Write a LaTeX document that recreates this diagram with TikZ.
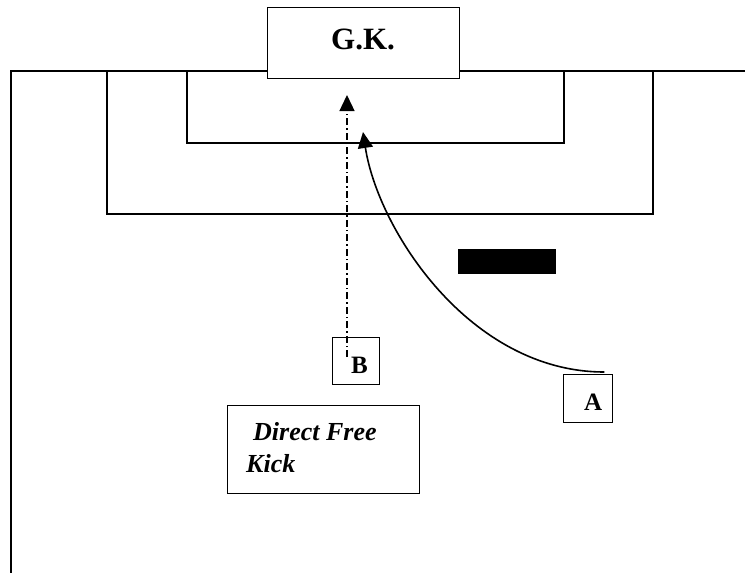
\documentclass[tikz,border=0pt]{standalone}
\usepackage{fontspec}
\setmainfont{Liberation Serif}
\usetikzlibrary{calc,arrows.meta}
\tikzset{>=stealth}
\tikzset{
  line/.style={line width=1.4pt,black},
  plbox/.style={draw,line width=1.4pt,fill=white,inner sep=0pt,anchor=north west},
  lbl/.style={inner sep=0pt,anchor=base west,font=\bfseries\fontsize{25}{28}\selectfont},
  tip/.style={-{Triangle[length=16pt,width=15pt]}}
}

\begin{document}
\begin{tikzpicture}[x=1pt,y=-1pt]
    \useasboundingbox (0,0) rectangle (745,573);
    % pitch lines
      \draw[line] (745,71)--(11,71)--(11,573);
      \draw[line] (107,71)--(107,214)--(653,214)--(653,71);
      \draw[line] (187,71)--(187,143)--(564,143)--(564,71);
    % keeper and players
    \node[plbox,minimum width=192pt,minimum height=71pt] (gk) at (267,7) {};
    \node[lbl,font=\bfseries\fontsize{31}{34}\selectfont] (gklbl) at (331,49) {G.K.};
    \node[plbox,minimum width=47pt,minimum height=47pt] (ptB) at (332,337) {};
    \node[lbl] (Blbl) at (351,373) {B};
    \node[plbox,minimum width=49pt,minimum height=48pt] (ptA) at (563,374) {};
    \node[lbl] (Albl) at (584,410) {A};
    \node[plbox,minimum width=192pt,minimum height=88pt] (dfk) at (227,405) {};
    \node[inner sep=0pt,anchor=base west,align=left,font=\bfseries\itshape\fontsize{26}{32}\selectfont] (dfklbl) at (246,472) {\hspace{7pt}Direct Free\\Kick};
    \fill[black] (458,249) rectangle (556,274);
    % runs
    \coordinate (Bstart) at (347,357);
    \coordinate (Bend) at (347,95);
    \coordinate (Astart) at ($(ptA.north east)+(-9,-2)$);
    \coordinate (Aend) at (363,132);
    \draw[line width=1.3pt,dash pattern=on 7pt off 3pt on 1.5pt off 3pt,tip] (Bstart)--(Bend);
    \draw[line width=1.6pt,tip] (Astart) .. controls (470,372) and (378,230) .. (Aend);
     \end{tikzpicture}
\end{document}
